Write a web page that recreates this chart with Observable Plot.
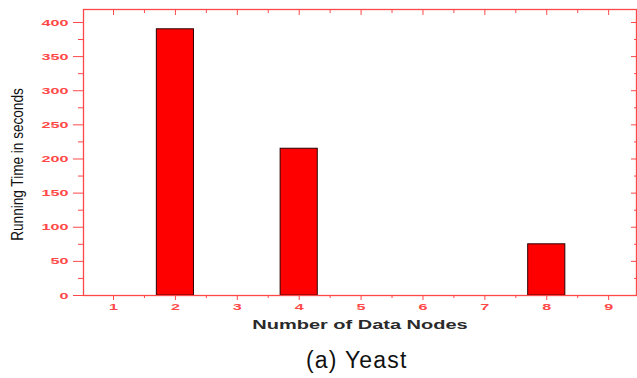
<!DOCTYPE html>
<html><head><meta charset="utf-8">
<script src="https://cdn.jsdelivr.net/npm/d3@7"></script>
<script src="https://cdn.jsdelivr.net/npm/@observablehq/plot@0.6"></script>
<style>
body{margin:0;background:#fff;}
#caption{width:637px;font-family:"Liberation Sans",Arial,sans-serif;font-size:23px;line-height:27px;letter-spacing:1.2px;color:#111;margin-top:7px;box-sizing:border-box;text-align:left;padding-left:306px;}
</style>
</head><body><div id="chart"></div><div id="caption">(a) Yeast</div>
<script>
const nodes = [2, 4, 8];
const times = [390, 215, 75];
const xTicks = [1, 2, 3, 4, 5, 6, 7, 8, 9];
const xMinorTicks = [1.5, 2.5, 3.5, 4.5, 5.5, 6.5, 7.5, 8.5];
const yTicks = [0, 50, 100, 150, 200, 250, 300, 350, 400];
const yMinorTicks = [25, 75, 125, 175, 225, 275, 325, 375];
const xTitle = "Number of Data Nodes";
const yTitle = "Running Time in seconds";

const data = nodes.map((n, i) => ({nodes: n, time: times[i]}));
const red = "#ff4848";
const blank = () => "";

const plot = Plot.plot({
  width: 637, height: 340,
  marginTop: 9, marginBottom: 45, marginLeft: 83, marginRight: 1,
  x: {domain: [0.515, 9.45]},
  y: {domain: [0, 419]},
  style: {background: "#fff", color: red, fontFamily: "Liberation Sans, Arial, sans-serif", fontSize: "9.5px", fontWeight: "bold"},
  marks: [
    Plot.rectY(data, {x1: d => d.nodes - 0.3, x2: d => d.nodes + 0.3, y: "time", fill: "#ff0000", stroke: "#2a0000", strokeWidth: 1}),
    Plot.frame({stroke: red, strokeWidth: 1.3}),
    Plot.axisX({ticks: xTicks, tickSize: 5, tickPadding: 3, label: null}),
    Plot.axisX({ticks: xMinorTicks, tickSize: 3, tickFormat: blank, label: null}),
    Plot.axisX({anchor: "top", ticks: xTicks, tickSize: -5, tickFormat: blank, label: null}),
    Plot.axisX({anchor: "top", ticks: xMinorTicks, tickSize: -3, tickFormat: blank, label: null}),
    Plot.axisY({ticks: yTicks, tickSize: 10, tickPadding: 5, label: null}),
    Plot.axisY({ticks: yMinorTicks, tickSize: 5, tickFormat: blank, label: null}),
    Plot.axisY({anchor: "right", ticks: yTicks, tickSize: -6, tickFormat: blank, label: null}),
    Plot.axisY({anchor: "right", ticks: yMinorTicks, tickSize: -3, tickFormat: blank, label: null}),
    Plot.text([yTitle], {frameAnchor: "left", textAnchor: "middle", rotate: -90, dx: -66, dy: 12, fill: "#111", fontSize: 17, fontWeight: "normal", fontFamily: "Liberation Sans, Arial, sans-serif", className: "ytitle"}),
    Plot.text([xTitle], {frameAnchor: "bottom", dy: 33, fill: "#2a2a2a", fontSize: 12.5, fontWeight: "bold", fontFamily: "Liberation Sans, Arial, sans-serif", className: "xtitle"})
  ]
});
document.getElementById("chart").appendChild(plot);

function stretch(sel, sx, sy) {
  d3.select(plot).selectAll(sel).each(function() {
    const t = this.getAttribute("transform") || "";
    this.setAttribute("transform", t + ` scale(${sx},${sy})`);
  });
}
stretch('g[aria-label="x-axis tick label"] text', 1.7, 1);
stretch('g[aria-label="y-axis tick label"] text', 1.7, 1);
stretch('.xtitle text', 1.6, 1);
stretch('.ytitle text', 0.8, 1);
</script>
</body></html>
